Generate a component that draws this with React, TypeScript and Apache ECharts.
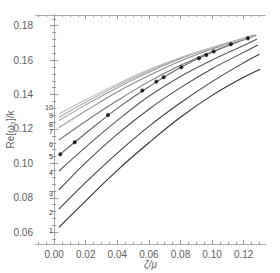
import React, { useEffect, useRef } from "react";
import * as echarts from "echarts";

// shared x grid for curve samples (ζ/μ)
const xs = [0.003, 0.02, 0.04, 0.06, 0.08, 0.1, 0.12];
// Re[ω3]/k for curves 1..10
const curve1 = [0.0629, 0.0783, 0.096, 0.112, 0.1268, 0.1395, 0.15];
const curve2 = [0.0735, 0.089, 0.106, 0.1215, 0.1352, 0.1475, 0.1585];
const curve3 = [0.0846, 0.1005, 0.117, 0.1315, 0.144, 0.155, 0.1645];
const curve4 = [0.0956, 0.1095, 0.125, 0.139, 0.1505, 0.16, 0.1685];
const curve5 = [0.1047, 0.1175, 0.132, 0.1445, 0.1557, 0.1645, 0.1718];
const curve6 = [0.1136, 0.1245, 0.1365, 0.1475, 0.157, 0.165, 0.1718];
const curve7 = [0.1208, 0.1305, 0.1415, 0.151, 0.1595, 0.1665, 0.1725];
const curve8 = [0.1249, 0.134, 0.144, 0.153, 0.1608, 0.1672, 0.1727];
const curve9 = [0.1268, 0.1355, 0.1452, 0.1538, 0.1612, 0.1673, 0.1725];
const curve10 = [0.1287, 0.137, 0.1462, 0.1545, 0.1615, 0.1672, 0.1722];
const curves = [curve1, curve2, curve3, curve4, curve5, curve6, curve7, curve8, curve9, curve10];
// end points of each curve
const endX = [0.1305, 0.13, 0.129, 0.1285, 0.128, 0.1275, 0.127, 0.127, 0.127, 0.127];
const endY = [0.1547, 0.1634, 0.1688, 0.1723, 0.1743, 0.1745, 0.1745, 0.1745, 0.1742, 0.174];
const curveNames = ["1", "2", "3", "4", "5", "6", "7", "8", "9", "10"];

// black markers (on curve 5)
const dotX = [0.0039, 0.013, 0.0341, 0.0558, 0.0647, 0.0693, 0.0805, 0.0917, 0.0963, 0.101, 0.1119, 0.1227];
const dotY = [0.1053, 0.1123, 0.1281, 0.1423, 0.1475, 0.15, 0.1559, 0.1611, 0.163, 0.165, 0.1692, 0.1727];

// ticks
const xMajor = [0, 0.02, 0.04, 0.06, 0.08, 0.1, 0.12];
const xMinor = [-0.01, -0.005, 0.005, 0.01, 0.015, 0.025, 0.03, 0.035, 0.045, 0.05, 0.055, 0.065, 0.07, 0.075, 0.085, 0.09, 0.095, 0.105, 0.11, 0.115, 0.125, 0.13];
const yMajor = [0.06, 0.08, 0.1, 0.12, 0.14, 0.16, 0.18];
const yMinor = [0.056, 0.064, 0.068, 0.072, 0.076, 0.084, 0.088, 0.092, 0.096, 0.104, 0.108, 0.112, 0.116, 0.124, 0.128, 0.132, 0.136, 0.144, 0.148, 0.152, 0.156, 0.164, 0.168, 0.172, 0.176, 0.184];

const colors = ["#333333", "#404040", "#4c4c4c", "#585858", "#646464", "#777777", "#8a8a8a", "#9c9c9c", "#acacac", "#bcbcbc"];
const labelDy = [3, 3, 4, 2, 1, 4, 4, 4, -2, -7];

const X_MIN = -0.0115, X_MAX = 0.1335, Y_MIN = 0.0532, Y_MAX = 0.1862;
const FONT = "Liberation Sans, Arial, sans-serif";

function mkX(pos: string, values: number[], len: number, labels: boolean) {
  return {
    type: "value", position: pos, min: X_MIN, max: X_MAX,
    axisLine: { show: true, lineStyle: { color: "#aaaaaa", width: 1 } },
    axisTick: { show: true, inside: true, length: len, customValues: values, lineStyle: { color: "#999999" } },
    axisLabel: labels
      ? { show: true, customValues: xMajor, margin: 5, fontSize: 10, color: "#606060", fontFamily: FONT, formatter: (v: number) => v.toFixed(2) }
      : { show: false },
    splitLine: { show: false },
  };
}
function mkY(pos: string, values: number[], len: number, labels: boolean) {
  return {
    type: "value", position: pos, min: Y_MIN, max: Y_MAX,
    axisLine: { show: true, lineStyle: { color: "#aaaaaa", width: 1 } },
    axisTick: { show: true, inside: true, length: len, customValues: values, lineStyle: { color: "#999999" } },
    axisLabel: labels
      ? { show: true, customValues: yMajor, margin: 3, fontSize: 10, color: "#606060", fontFamily: FONT, formatter: (v: number) => v.toFixed(2) }
      : { show: false },
    splitLine: { show: false },
  };
}

export default function App() {
  const ref = useRef<HTMLDivElement>(null);
  useEffect(() => {
    document.body.style.margin = "0";
    const chart = echarts.init(ref.current!, undefined, { renderer: "svg" });
    const xAxes: any[] = [mkX("bottom", xMajor, 4, true), mkX("bottom", xMinor, 2, false), mkX("top", xMajor, 4, false), mkX("top", xMinor, 2, false)];
    xAxes[0].name = "ζ/μ";
    xAxes[0].nameLocation = "middle";
    xAxes[0].nameGap = 15;
    xAxes[0].nameMoveOverlap = false;
    xAxes[0].nameTextStyle = { fontSize: 10, color: "#606060", fontStyle: "italic", fontFamily: FONT };
    const yAxes: any[] = [mkY("left", yMajor, 4, true), mkY("left", yMinor, 2, false), mkY("right", yMajor, 4, false), mkY("right", yMinor, 2, false)];
    yAxes[0].name = "Re[ω₃]/k";
    yAxes[0].nameLocation = "middle";
    yAxes[0].nameGap = 21;
    yAxes[0].nameMoveOverlap = false;
    yAxes[0].nameTextStyle = { fontSize: 10, color: "#606060", fontFamily: FONT };

    const lineSeries = curves.map((c, i) => ({
      type: "line", name: curveNames[i], smooth: 0.4, showSymbol: false, symbol: "none",
      xAxisIndex: 0, yAxisIndex: 0, z: 2,
      lineStyle: { color: colors[i], width: 1.1 },
      data: [...c.map((v, j) => [xs[j], v]), [endX[i], endY[i]]],
      markPoint: {
        silent: true, animation: false, symbol: "circle", symbolSize: 0,
        itemStyle: { color: "#333333" },
        data: [{
          coord: [xs[0], c[0]],
          label: {
            show: true, formatter: curveNames[i], position: "left", distance: 6,
            offset: [0, labelDy[i]], fontSize: 7, color: "#333333", fontFamily: FONT,
            textBorderWidth: 0,
          },
        }],
      },
    }));
    chart.setOption({
      animation: false,
      grid: { left: 36, right: 15, top: 15, bottom: 29, containLabel: false, outerBoundsMode: "none" },
      xAxis: xAxes,
      yAxis: yAxes,
      series: [
        ...lineSeries,
        {
          type: "scatter", xAxisIndex: 0, yAxisIndex: 0, z: 5, symbolSize: 4,
          itemStyle: { color: "#000000" },
          data: dotX.map((x, i) => [x, dotY[i]]),
        },
      ],
    });
    return () => chart.dispose();
  }, []);
  return <div ref={ref} style={{ width: 280, height: 273 }} />;
}
